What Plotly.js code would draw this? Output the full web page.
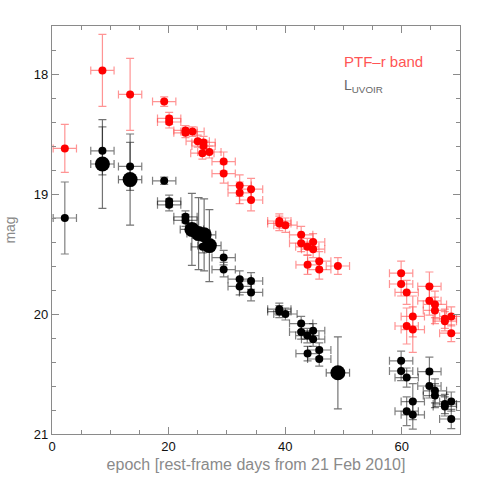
<!DOCTYPE html>
<html><head><meta charset="utf-8">
<script src="https://cdn.plot.ly/plotly-3.0.1.min.js"></script>
<style>body{margin:0;padding:0;background:#fff}#chart{width:485px;height:485px}</style>
</head><body><div id="chart"></div>
<script>
// PTF-r band (red)
const redEpoch = [2.2, 8.65, 13.4, 19.25, 20.1, 20.1, 22.9, 22.9, 24.1, 25.0, 26.0, 26.0, 25.8, 27.0, 29.45, 29.45, 32.2, 32.2, 34.15, 34.15, 39.0, 39.0, 40.05, 42.75, 42.75, 43.8, 44.8, 44.8, 43.85, 45.85, 45.85, 49.05, 59.9, 59.9, 60.85, 61.9, 60.85, 61.9, 64.75, 64.75, 65.7, 65.7, 67.4, 67.4, 68.5, 68.5];
const redMag = [18.62, 17.97, 18.17, 18.23, 18.37, 18.40, 18.47, 18.49, 18.48, 18.56, 18.57, 18.60, 18.66, 18.65, 18.73, 18.83, 18.93, 18.99, 18.96, 19.05, 19.225, 19.245, 19.26, 19.34, 19.41, 19.44, 19.40, 19.46, 19.59, 19.56, 19.63, 19.60, 19.66, 19.75, 19.82, 20.02, 20.10, 20.13, 19.77, 19.89, 19.92, 19.97, 20.04, 20.06, 20.02, 20.16];
const redErr = [0.2, 0.3, 0.3, 0.04, 0.05, 0.05, 0.04, 0.04, 0.04, 0.05, 0.05, 0.05, 0.05, 0.05, 0.08, 0.08, 0.09, 0.09, 0.09, 0.09, 0.06, 0.06, 0.06, 0.07, 0.07, 0.07, 0.07, 0.07, 0.08, 0.08, 0.08, 0.07, 0.1, 0.1, 0.1, 0.17, 0.15, 0.19, 0.12, 0.12, 0.11, 0.11, 0.08, 0.08, 0.08, 0.07];

// L_UVOIR (black, small)
const blkEpoch = [2.2, 8.65, 13.4, 19.25, 20.1, 20.1, 22.9, 22.9, 25.85, 29.45, 29.45, 32.2, 32.2, 34.15, 34.15, 39.0, 39.0, 40.05, 42.75, 42.75, 43.8, 44.8, 44.8, 43.85, 45.85, 45.85, 59.9, 59.9, 60.85, 61.9, 60.85, 61.9, 64.75, 64.75, 65.7, 65.7, 67.4, 67.4, 68.5, 68.5];
const blkMag = [19.2, 18.64, 18.77, 18.89, 19.06, 19.09, 19.19, 19.22, 19.44, 19.53, 19.63, 19.71, 19.77, 19.725, 19.82, 19.96, 19.98, 20.0, 20.08, 20.15, 20.18, 20.14, 20.21, 20.33, 20.30, 20.375, 20.39, 20.475, 20.53, 20.73, 20.81, 20.84, 20.48, 20.6, 20.64, 20.68, 20.75, 20.77, 20.73, 20.875];
const blkErr = [0.3, 0.2, 0.2, 0.03, 0.05, 0.05, 0.05, 0.05, 0.05, 0.06, 0.06, 0.07, 0.07, 0.07, 0.07, 0.05, 0.05, 0.05, 0.06, 0.06, 0.06, 0.06, 0.06, 0.06, 0.06, 0.06, 0.08, 0.08, 0.08, 0.15, 0.12, 0.12, 0.12, 0.1, 0.1, 0.1, 0.08, 0.08, 0.08, 0.08];

// L_UVOIR (black, large)
const bigEpoch = [8.65, 13.4, 24.0, 25.15, 26.1, 27.0, 49.05];
const bigMag = [18.75, 18.88, 19.295, 19.33, 19.34, 19.43, 20.49];
const bigErr = [0.37, 0.38, 0.3, 0.3, 0.3, 0.3, 0.3];

const epochErr = 2;

function errTrace(x, y, e, col, ecol, size) {
  return {
    x: x, y: y, type: 'scatter', mode: 'markers',
    marker: {color: col, size: size},
    error_y: {type: 'data', array: e, visible: true, color: ecol, thickness: 1.2, width: 4},
    error_x: {type: 'constant', value: epochErr, visible: true, color: ecol, thickness: 1.2, width: 4},
    hoverinfo: 'skip', showlegend: false
  };
}

const data = [
  errTrace(redEpoch, redMag, redErr, '#ff0000', 'rgba(255,60,60,0.55)', 8),
  errTrace(blkEpoch, blkMag, blkErr, '#000000', 'rgba(0,0,0,0.5)', 8),
  errTrace(bigEpoch, bigMag, bigErr, '#000000', 'rgba(0,0,0,0.55)', 15)
];

const axisCommon = {
  showgrid: false, zeroline: false, showline: true, linecolor: '#8a8a8a', linewidth: 1.2,
  mirror: 'allticks', ticks: 'inside', ticklen: 7, tickcolor: '#8a8a8a', tickwidth: 1,
  tickfont: {family: 'Liberation Sans, Arial, sans-serif', size: 13, color: '#111'}
};

const layout = {
  width: 485, height: 485,
  margin: {l: 52, r: 25, t: 26, b: 51},
  paper_bgcolor: '#fff', plot_bgcolor: '#fff',
  xaxis: Object.assign({}, axisCommon, {
    range: [0, 70], tickvals: [0, 20, 40, 60], ticktext: ['0', '20', '40', '60'],
    minor: {dtick: 5, tick0: 0, ticks: 'inside', ticklen: 4, tickcolor: '#8a8a8a'},
    title: {text: 'epoch [rest-frame days from 21 Feb 2010]', standoff: 6,
      font: {family: 'Liberation Sans, Arial, sans-serif', size: 16, color: '#8a8a8a'}}
  }),
  yaxis: Object.assign({}, axisCommon, {
    range: [21, 17.6], tickvals: [18, 19, 20, 21], ticktext: ['18', '19', '20', '21'],
    minor: {dtick: 0.2, tick0: 0, ticks: 'inside', ticklen: 4, tickcolor: '#8a8a8a'},
    title: {text: 'mag', standoff: 14,
      font: {family: 'Liberation Sans, Arial, sans-serif', size: 14, color: '#8a8a8a'}}
  }),
  annotations: [
    {xref: 'paper', yref: 'paper', x: 0.71, y: 0.912, xanchor: 'left', yanchor: 'middle', showarrow: false,
      text: 'PTF\u2013r band', font: {family: 'Liberation Sans, Arial, sans-serif', size: 15, color: '#ff5555'}},
    {xref: 'paper', yref: 'paper', x: 0.71, y: 0.852, xanchor: 'left', yanchor: 'middle', showarrow: false,
      text: 'L<sub>UVOIR</sub>', font: {family: 'Liberation Sans, Arial, sans-serif', size: 14, color: '#666'}}
  ]
};

Plotly.newPlot('chart', data, layout, {staticPlot: true, displayModeBar: false});
</script></body></html>
